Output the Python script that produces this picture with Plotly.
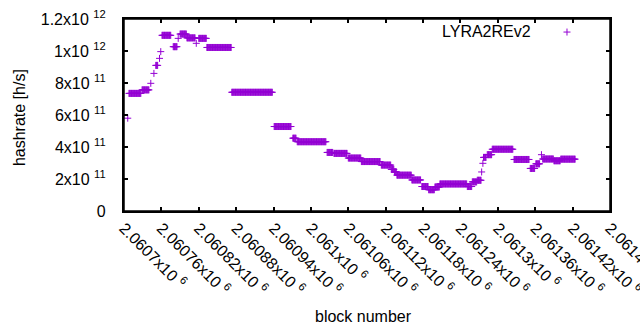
import plotly.graph_objects as go

# Run-length description of the per-block hashrate series (block ranges, value in h/s)
run_start = [2060706, 2060708, 2060729, 2060743, 2060748, 2060751, 2060757, 2060759,
             2060761, 2060779, 2060787, 2060790, 2060801, 2060816, 2060820, 2060833,
             2060873, 2060941, 2060971, 2060978, 2061026, 2061037, 2061060, 2061081,
             2061113, 2061129, 2061134, 2061138, 2061162, 2061178, 2061189, 2061199,
             2061207, 2061251, 2061259, 2061267, 2061274, 2061276, 2061277, 2061283,
             2061291, 2061326, 2061352, 2061361, 2061370, 2061372, 2061390, 2061401]
run_end = [2060706, 2060727, 2060740, 2060743, 2060748, 2060754, 2060757, 2060759,
           2060775, 2060785, 2060787, 2060800, 2060814, 2060816, 2060832, 2060872,
           2060938, 2060968, 2060976, 2061024, 2061035, 2061058, 2061080, 2061111,
           2061128, 2061133, 2061137, 2061161, 2061176, 2061188, 2061198, 2061206,
           2061250, 2061258, 2061266, 2061273, 2061274, 2061276, 2061281, 2061290,
           2061324, 2061350, 2061359, 2061367, 2061370, 2061389, 2061400, 2061424]
run_hashrate = [5.80e11, 7.35e11, 7.57e11, 7.98e11, 8.60e11, 9.10e11, 9.54e11, 9.96e11,
                10.98e11, 10.27e11, 10.79e11, 11.06e11, 10.82e11, 10.48e11, 10.79e11, 10.22e11,
                7.42e11, 5.28e11, 4.55e11, 4.33e11, 3.66e11, 3.60e11, 3.31e11, 3.09e11,
                2.87e11, 2.60e11, 2.45e11, 2.24e11, 1.94e11, 1.53e11, 1.33e11, 1.50e11,
                1.69e11, 1.53e11, 1.82e11, 1.92e11, 2.44e11, 2.98e11, 3.35e11, 3.52e11,
                3.86e11, 3.22e11, 2.66e11, 2.95e11, 3.52e11, 3.25e11, 3.14e11, 3.24e11]

x_tick_vals = [2060700, 2060760, 2060820, 2060880, 2060940, 2061000, 2061060,
               2061120, 2061180, 2061240, 2061300, 2061360, 2061420, 2061480]
x_tick_text = ["2.0607", "2.06076", "2.06082", "2.06088", "2.06094", "2.061", "2.06106",
               "2.06112", "2.06118", "2.06124", "2.0613", "2.06136", "2.06142", "2.06148"]
y_tick_vals = [0, 2e11, 4e11, 6e11, 8e11, 1e12, 1.2e12]
y_tick_text = ["0", "2x10 <sup>11</sup>", "4x10 <sup>11</sup>", "6x10 <sup>11</sup>",
               "8x10 <sup>11</sup>", "1x10 <sup>12</sup>", "1.2x10 <sup>12</sup>"]

blocks, rates = [], []
for s, e, v in zip(run_start, run_end, run_hashrate):
    for b in range(s, e + 1):
        blocks.append(b)
        rates.append(v)

COLOR = "#9400D3"
FONT = "Liberation Sans"
FS = 16

fig = go.Figure()
fig.add_trace(go.Scatter(
    x=blocks, y=rates, mode="markers", name="LYRA2REv2",
    marker=dict(symbol="cross-thin-open", size=5, color=COLOR,
                line=dict(color=COLOR, width=1)),
    showlegend=False,
))

axis_common = dict(showline=True, linecolor="#000000", linewidth=1.5, mirror="allticks",
                   ticks="inside", ticklen=4, tickwidth=1.5, tickcolor="#000000",
                   showgrid=False, zeroline=False, automargin=False,
                   ticklabeloverflow="allow", layer="above traces",
                   tickfont=dict(family=FONT, size=FS, color="black"))

fig.update_xaxes(range=[2060700, 2061480], tickmode="array", tickvals=x_tick_vals,
                 ticktext=[t + "x10 <sup>6</sup>" for t in x_tick_text], tickangle=45,
                 **axis_common)
fig.update_yaxes(range=[0, 1.2e12], tickmode="array", tickvals=y_tick_vals,
                 ticktext=[t + "\u00a0\u00a0\u00a0" for t in y_tick_text], **axis_common)

# gnuplot-style key (plus sign to the right of the text) and plot border
kx, ky, dx, dy = 0.9115, 0.932, 3.5 / 486, 3.5 / 192
shapes = [
    dict(type="rect", xref="paper", yref="paper", x0=0, x1=1, y0=0, y1=1,
         line=dict(color="#000000", width=1.5), fillcolor="rgba(0,0,0,0)", layer="above"),
    dict(type="line", xref="paper", yref="paper", x0=kx - dx, x1=kx + dx, y0=ky, y1=ky,
         line=dict(color=COLOR, width=1)),
    dict(type="line", xref="paper", yref="paper", x0=kx, x1=kx, y0=ky - dy, y1=ky + dy,
         line=dict(color=COLOR, width=1)),
]

fig.update_layout(
    template="none",
    width=640, height=330,
    margin=dict(l=124, r=30, t=19, b=119, autoexpand=False),
    plot_bgcolor="white", paper_bgcolor="white",
    font=dict(family=FONT, size=FS, color="black"),
    annotations=[
        dict(text="hashrate [h/s]", xref="paper", yref="paper", x=-0.216, y=0.484,
             textangle=-90, showarrow=False, xanchor="center", yanchor="middle",
             font=dict(family=FONT, size=FS, color="black")),
        dict(text="block number", xref="paper", yref="paper", x=0.492, y=-0.547,
             showarrow=False, xanchor="center", yanchor="middle",
             font=dict(family=FONT, size=FS, color="black")),
        dict(text="LYRA2REv2", xref="paper", yref="paper", x=0.8416, y=0.9375,
             showarrow=False, xanchor="right", yanchor="middle",
             font=dict(family=FONT, size=FS, color="black")),
    ],
    shapes=shapes,
)

fig.write_html("out.html", config={"displayModeBar": False},
               post_script="document.body.style.margin='0';")
